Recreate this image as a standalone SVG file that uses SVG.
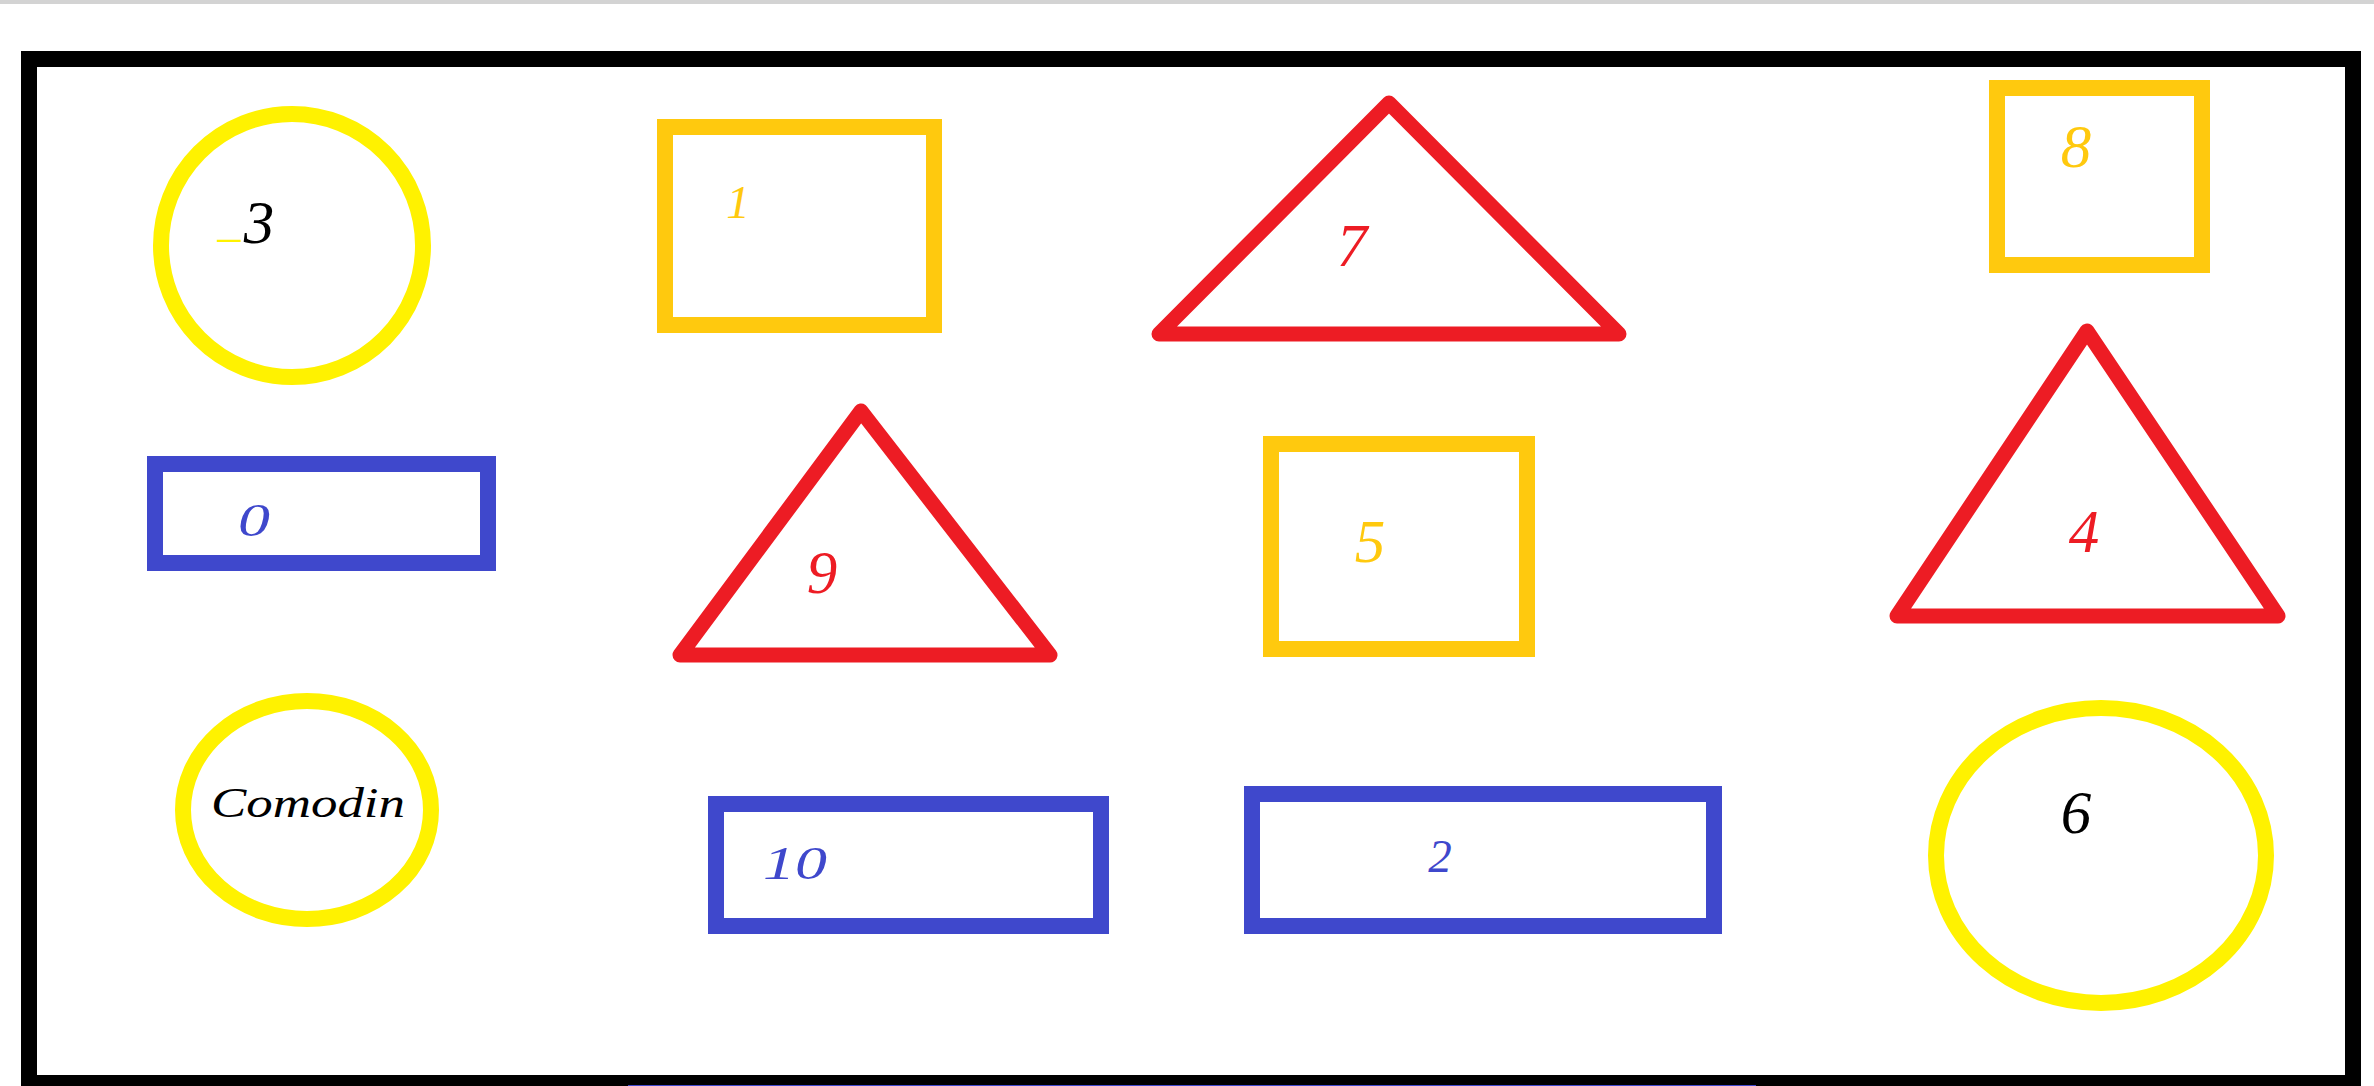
<svg xmlns="http://www.w3.org/2000/svg" width="2374" height="1086" viewBox="0 0 2374 1086">
<style>
.yc{fill:none;stroke:#fff200;stroke-width:16}
.or{fill:none;stroke:#ffc90e;stroke-width:16}
.bl{fill:none;stroke:#3f48cc;stroke-width:16}
.rt{fill:none;stroke:#ed1c24;stroke-width:15;stroke-linejoin:round}
text{font-family:"Liberation Serif","Times New Roman",serif;font-style:italic;text-anchor:middle}
.big{font-size:61px}
.sm{font-size:47px}
.k{fill:#000}
.ty{fill:#ffc90e}
.tr{fill:#ed1c24}
.tb{fill:#3f48cc}
</style>
<rect x="0" y="0" width="2374" height="1086" fill="#fff"/>
<rect x="0" y="0" width="2374" height="4" fill="#d3d3d3"/>
<g id="frame">
<rect x="29" y="59" width="2324" height="1024" fill="none" stroke="#000" stroke-width="16"/>
<rect x="628" y="1085" width="1128" height="1" fill="#3f48cc"/>
</g>
<g id="connectors"/>
<g id="node-3">
<ellipse class="yc" cx="292" cy="245.5" rx="131" ry="131.5"/>
<text x="229" y="236" style="font-style:normal;font-size:46px" fill="#fff200">_</text>
<text class="big k" x="259" y="243">3</text>
</g>
<g id="node-1">
<rect class="or" x="665" y="127" width="269" height="198"/>
<text class="sm ty" x="738" y="218">1</text>
</g>
<g id="node-7">
<polygon class="rt" points="1389,103 1619,334 1159,334"/>
<text class="big tr" x="1352" y="266">7</text>
</g>
<g id="node-8">
<rect class="or" x="1997" y="88" width="205" height="177"/>
<text class="big ty" x="2076" y="167">8</text>
</g>
<g id="node-0">
<rect class="bl" x="155" y="464" width="333" height="99"/>
<text class="sm tb" x="254" y="536" textLength="32" lengthAdjust="spacingAndGlyphs">0</text>
</g>
<g id="node-9">
<polygon class="rt" points="861,411 1050,655 680,655"/>
<text class="big tr" x="822" y="593">9</text>
</g>
<g id="node-5">
<rect class="or" x="1271" y="444" width="256" height="205"/>
<text class="big ty" x="1370" y="562">5</text>
</g>
<g id="node-4">
<polygon class="rt" points="2087,331 2278,616 1897,616"/>
<text class="big tr" x="2084" y="552">4</text>
</g>
<g id="node-comodin">
<ellipse class="yc" cx="307" cy="810" rx="124" ry="109"/>
<text class="k" x="308" y="817" style="font-size:43px" textLength="194" lengthAdjust="spacingAndGlyphs">Comodin</text>
</g>
<g id="node-10">
<rect class="bl" x="716" y="804" width="385" height="122"/>
<text class="sm tb" x="795" y="879" textLength="64" lengthAdjust="spacingAndGlyphs">10</text>
</g>
<g id="node-2">
<rect class="bl" x="1252" y="794" width="462" height="132"/>
<text class="sm tb" x="1440" y="872">2</text>
</g>
<g id="node-6">
<ellipse class="yc" cx="2101" cy="855.5" rx="165" ry="147.5"/>
<text class="big k" x="2076" y="833">6</text>
</g>
</svg>
